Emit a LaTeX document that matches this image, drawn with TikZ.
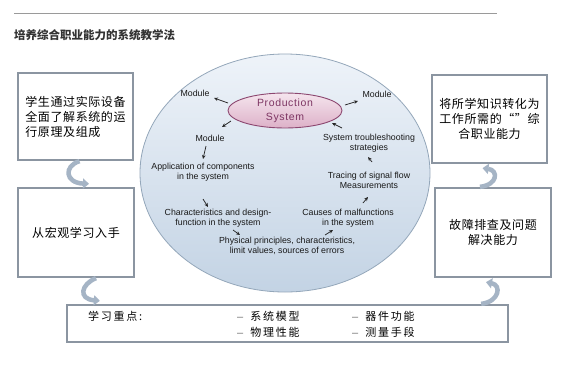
\documentclass[tikz,border=0pt]{standalone}
\usepackage{fontspec}
\setmainfont{Liberation Sans}
\newfontfamily\cjk{Noto Sans CJK SC}[LetterSpace=5]
\newfontfamily\cjkw{Noto Sans CJK SC}[LetterSpace=16]
\newfontfamily\cjkt{Noto Sans CJK SC}
\newfontfamily\psfont{Liberation Sans}[LetterSpace=6]
\usetikzlibrary{shapes.geometric,arrows.meta}
\definecolor{boxline}{HTML}{8B95A1}
\definecolor{ellline}{HTML}{94A7BA}
\definecolor{ellt}{HTML}{EEF3F9}
\definecolor{ellb}{HTML}{C3D3E4}
\definecolor{arrc}{HTML}{A5B4C5}
\definecolor{pst}{HTML}{F5E5EE}
\definecolor{psb}{HTML}{DDB1C8}
\definecolor{psline}{HTML}{8C4770}
\definecolor{pstext}{HTML}{7D3563}
\definecolor{rulec}{HTML}{9A9A9A}
\definecolor{titlec}{HTML}{333333}
\begin{document}
\begin{tikzpicture}[x=1pt,y=-1pt,
  box/.style={draw=boxline, line width=2.3pt, fill=white, inner sep=0pt,
    font=\cjk\fontsize{12}{15}\selectfont, text=black},
  eng/.style={font=\fontsize{8.8}{10}\selectfont, align=center, inner sep=1pt, text=black!90},
  arr/.style={-{Stealth[length=4pt,width=3.6pt]}, line width=0.75pt, draw=black!85},
  bigarr/.style={line width=4.5pt, draw=arrc, -{Triangle[length=6pt,width=10pt]}},
  key/.style={anchor=west, inner sep=0pt, font=\cjkw\fontsize{11}{13}\selectfont, text=black}
]
\useasboundingbox (0,0) rectangle (579,378);
\fill[white] (0,0) rectangle (579,378);
% rule and title
\draw[rulec, line width=1pt] (14,13) -- (497,13);
\node[anchor=west, inner sep=0pt, text=titlec, font=\cjkt\bfseries\fontsize{11.5}{13}\selectfont] (title) at (14,35) {培养综合职业能力的系统教学法};

% big ellipse
\node[draw=ellline, line width=0.8pt, ellipse, minimum width=290pt, minimum height=238pt,
  top color=ellt, bottom color=ellb, inner sep=0pt] (big) at (285,173) {};

% boxes
\node[box, minimum width=115pt, minimum height=87pt, align=left] (box1) at (75.5,116.5)
  {学生通过实际设备\\全面了解系统的运\\行原理及组成};
\node[box, minimum width=116pt, minimum height=89pt] (box2) at (76,232.5) {从宏观学习入手};
\node[box, minimum width=115pt, minimum height=88pt, align=center] (box3) at (489.5,119)
  {将所学知识转化为\\工作所需的“”综\\合职业能力};
\node[box, minimum width=116pt, minimum height=89pt, align=center] (box4) at (493,232.5)
  {故障排查及问题\\解决能力};
\node[box, minimum width=441pt, minimum height=37pt] (kb) at (287.5,323.5) {};

% key points
\node[key] (k0) at (88,316) {学习重点:};
\node[key] (k1) at (237,316) {{\rmfamily\color{black!55}–}\hspace{7pt}系统模型};
\node[key] (k2) at (237,332) {{\rmfamily\color{black!55}–}\hspace{7pt}物理性能};
\node[key] (k3) at (352,316) {{\rmfamily\color{black!55}–}\hspace{7pt}器件功能};
\node[key] (k4) at (352,332) {{\rmfamily\color{black!55}–}\hspace{7pt}测量手段};

% production system
\node[ellipse, draw=psline, line width=0.9pt, top color=pst, bottom color=psb,
  minimum width=114pt, minimum height=35pt, inner sep=0pt, align=center,
  font=\psfont\fontsize{10.5}{14}\selectfont, text=pstext] (ps) at (285,110.5) {Production\\System};

% text nodes
\node[eng] (m1) at (195,93) {Module};
\node[eng] (m2) at (377,94) {Module};
\node[eng] (m3) at (210,138) {Module};
\node[eng] (ts) at (369,143) {System troubleshooting\\strategies};
\node[eng] (app) at (203,172) {Application of components\\in the system};
\node[eng] (tr) at (369,180.5) {Tracing of signal flow\\Measurements};
\node[eng] (ch) at (218,218) {Characteristics and design-\\function in the system};
\node[eng] (ca) at (348,218) {Causes of malfunctions\\in the system};
\node[eng] (ph) at (287,245.5) {Physical principles, characteristics,\\limit values, sources of errors};

% small arrows
\draw[arr] ([xshift=-57pt,yshift=7.5pt]ps.center) -- ([xshift=19pt,yshift=-5pt]m1.center);
\draw[arr] ([xshift=60pt,yshift=5.5pt]ps.center) -- ([xshift=-19pt,yshift=-7pt]m2.center);
\draw[arr] ([xshift=-54pt,yshift=-10.5pt]ps.center) -- ([xshift=12pt,yshift=11pt]m3.center);
\draw[arr] ([xshift=-27pt,yshift=15pt]ts.center) -- ([xshift=47pt,yshift=-12.5pt]ps.center);
\draw[arr] ([xshift=-4pt,yshift=-8pt]m3.center) -- ([yshift=13pt]app.center);
\draw[arr] ([xshift=3pt,yshift=18.5pt]tr.center) -- ([xshift=-1pt,yshift=-14pt]ts.center);
\draw[arr] ([yshift=-27pt]app.center) -- ([xshift=-10pt,yshift=11pt]ch.center);
\draw[arr] ([xshift=15pt,yshift=15pt]ca.center) -- ([xshift=-1pt,yshift=-16.5pt]tr.center);
\draw[arr] ([xshift=15pt,yshift=-12pt]ch.center) -- ([xshift=-47pt,yshift=10.5pt]ph.center);
\draw[arr] ([xshift=38pt,yshift=10.5pt]ph.center) -- ([xshift=-15pt,yshift=-12pt]ca.center);

% big curved arrows
\draw[bigarr] ([xshift=4pt]box1.south) .. controls +(-16,5) and +(-24,-1) .. ([xshift=13pt,yshift=3pt]box2.north);
\draw[bigarr] ([xshift=20pt]box2.south) .. controls +(-15,6) and +(-22,-2) .. ([xshift=34pt,yshift=3pt]kb.north west);
\draw[bigarr] ([xshift=-13pt]box4.north) .. controls +(18,-2) and +(16,2) .. ([xshift=-7pt,yshift=-4pt]box3.south);
\draw[bigarr] ([xshift=-28pt]kb.north east) .. controls +(18,-2) and +(16,3) .. ([xshift=-7pt,yshift=-4pt]box4.south);
\end{tikzpicture}
\end{document}
